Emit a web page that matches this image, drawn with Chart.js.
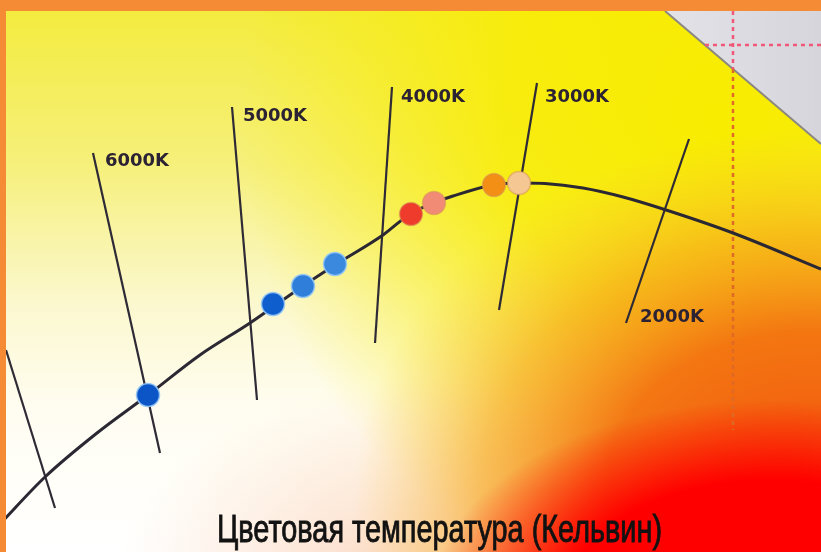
<!DOCTYPE html>
<html><head><meta charset="utf-8">
<script src="https://cdn.jsdelivr.net/npm/chart.js@4"></script>
<style>html,body{margin:0;padding:0;background:#fff}#wrap{width:821px;height:552px}</style>
</head><body><div id="wrap"><canvas id="c"></canvas></div>
<script>
/* ---- DATA — координаты сняты с исходной картинки (единицы = пиксели, y вниз) ---- */
// линия Планка (локус чёрного тела)
const locusX = [0, 45, 97, 148, 200, 250, 303, 335, 383, 410, 433, 453, 493, 519, 545, 583, 623, 663, 733, 821];
const locusY = [524, 477, 433, 395, 355, 323, 286, 265, 235, 214, 203, 196, 185, 183, 183.5, 188, 197, 209, 233, 269];

// изотермы: верхний и нижний концы
const isoLabels = ["", "6000K", "5000K", "4000K", "3000K", "2000K"];
const isoTopX = [6, 93, 232, 392, 537, 689];
const isoTopY = [350, 153, 107, 87, 83, 139];
const isoBotX = [55, 160, 257, 375, 499, 626];
const isoBotY = [508, 453, 400, 343, 310, 323];

// точки источников света на локусе
const dotX = [148, 273, 303, 335, 411, 434, 494, 519];
const dotY = [395, 304, 286, 264, 214, 203, 185, 183];
const dotColors = ["#0b55c6", "#0e5ecd", "#2f7fda", "#3a89de", "#ee3b2b", "#f18b76", "#f28f14", "#f5c792"];

// пунктирные направляющие справа
const guideVX = [733, 733, 733];
const guideVY = [11, 69, 430];
const guideHX = [705, 821];
const guideHY = [45, 45];

const titleText = "Цветовая температура (Кельвин)";

function radial(ctx, cx, cy, sx, r, stops){
  ctx.save();
  ctx.translate(cx, cy); ctx.scale(sx, 1);
  const g = ctx.createRadialGradient(0, 0, 0, 0, 0, r);
  stops.forEach(s => g.addColorStop(s[0], s[1]));
  ctx.fillStyle = g;
  ctx.fillRect(-cx / sx - 10, -cy - 10, 900 / sx + 20, 600);
  ctx.restore();
}

/* ---- фон: градиенты, серый угол, оранжевая рамка ---- */
const bgPlugin = {
  id: "bg",
  beforeDraw(chart){
    const {ctx, width:w, height:h} = chart;
    ctx.save();
    let g = ctx.createLinearGradient(0, 0, 0, h);
    g.addColorStop(0, "#f3eb3a"); g.addColorStop(0.3, "#f6f07c");
    g.addColorStop(0.55, "#fbf8cf"); g.addColorStop(0.75, "#fffdf2"); g.addColorStop(1, "#ffffff");
    ctx.fillStyle = g; ctx.fillRect(0, 0, w, h);

    radial(ctx, 720, 120, 1, 480, [[0, "rgba(248,236,0,1)"], [0.45, "rgba(248,236,0,0.85)"], [1, "rgba(248,236,0,0)"]]);
    // лёгкий персиковый оттенок внизу
    radial(ctx, 420, 600, 1.4, 220, [[0, "rgba(248,170,120,0.55)"], [1, "rgba(248,190,150,0)"]]);
    // оранжевое поле
    radial(ctx, 810, 495, 1.25, 365, [[0, "rgba(242,80,10,1)"], [0.45, "rgba(243,112,16,0.95)"],
      [0.72, "rgba(246,162,28,0.62)"], [1, "rgba(248,200,60,0)"]]);
    // красное ядро
    radial(ctx, 770, 600, 1.7, 200, [[0, "#ff0000"], [0.6, "rgba(255,0,0,1)"], [1, "rgba(255,10,0,0)"]]);

    // серый треугольник в правом верхнем углу
    g = ctx.createLinearGradient(665, 0, 821, 0);
    g.addColorStop(0, "#e3e2e7"); g.addColorStop(1, "#d6d5dc");
    ctx.fillStyle = g;
    ctx.beginPath(); ctx.moveTo(665, 11); ctx.lineTo(821, 11); ctx.lineTo(821, 144); ctx.closePath(); ctx.fill();
    ctx.strokeStyle = "#8a8780"; ctx.lineWidth = 2;
    ctx.beginPath(); ctx.moveTo(665, 11); ctx.lineTo(821, 144); ctx.stroke();
    ctx.restore();
  },
  afterDraw(chart){
    const {ctx, width:w, height:h} = chart;
    const xs = chart.scales.x, ys = chart.scales.y;
    ctx.save();
    // подписи изотерм
    ctx.fillStyle = "#2b2233";
    ctx.font = "bold 18px 'DejaVu Sans'";
    ctx.textBaseline = "alphabetic";
    const off = [null, [12,13], [11,14], [9,15], [8,19], [14,-1]];
    isoLabels.forEach((t, i) => {
      if(!t) return;
      const atBottom = i === 5;
      const px = xs.getPixelForValue(atBottom ? isoBotX[i] : isoTopX[i]);
      const py = ys.getPixelForValue(atBottom ? isoBotY[i] : isoTopY[i]);
      ctx.fillText(t, px + off[i][0], py + off[i][1], 66);
    });
    // подпись оси
    ctx.fillStyle = "#121212"; ctx.strokeStyle = "#121212"; ctx.lineWidth = 0.9;
    ctx.font = "38px 'Liberation Sans'";
    ctx.fillText(titleText, 217, 542, 445);
    ctx.strokeText(titleText, 217, 542, 445);
    // оранжевая рамка
    ctx.fillStyle = "#f68b35";
    ctx.fillRect(0, 0, w, 11);
    ctx.fillRect(0, 0, 6, h);
    ctx.restore();
  }
};

const pts = (xs, ys) => xs.map((x, i) => ({x, y: ys[i]}));

const isoSets = isoLabels.map((_, i) => ({
  type: "line",
  data: [{x: isoTopX[i], y: isoTopY[i]}, {x: isoBotX[i], y: isoBotY[i]}],
  borderColor: "#2e2a36", borderWidth: 2.2, pointRadius: 0, order: 3, clip: false
}));

new Chart(document.getElementById("c"), {
  type: "line",
  data: {
    datasets: [
      {data: pts(dotX, dotY), showLine: false, pointRadius: 11.5, pointHoverRadius: 11.5,
       pointBackgroundColor: dotColors,
       pointBorderColor: dotColors.map((c, i) => i < 4 ? "rgba(150,200,245,0.9)" : "rgba(215,150,90,0.55)"),
       pointBorderWidth: 1.5, order: 0, clip: false},
      {data: pts(locusX, locusY), borderColor: "#2b2833", borderWidth: 3, tension: 0.4,
       cubicInterpolationMode: "monotone", pointRadius: 0, order: 1, clip: false},
      ...isoSets,
      {data: pts(guideVX.slice(0, 2), guideVY.slice(0, 2)), borderColor: "#f0587a", borderWidth: 2.5,
       borderDash: [4, 4], pointRadius: 0, order: 4, clip: false},
      {data: pts(guideVX.slice(1), guideVY.slice(1)), borderColor: "#de6a26", borderWidth: 2.5,
       borderDash: [4, 4], pointRadius: 0, order: 4, clip: false},
      {data: pts(guideHX, guideHY), borderColor: "#f0587a", borderWidth: 2.5,
       borderDash: [4, 4], pointRadius: 0, order: 4, clip: false}
    ]
  },
  options: {
    responsive: true, maintainAspectRatio: false, animation: false,
    layout: {padding: 0, autoPadding: false},
    plugins: {legend: {display: false}, tooltip: {enabled: false}},
    scales: {
      x: {type: "linear", min: 0, max: 821, display: false},
      y: {type: "linear", min: 0, max: 552, reverse: true, display: false}
    }
  },
  plugins: [bgPlugin]
});
</script>
</body></html>
